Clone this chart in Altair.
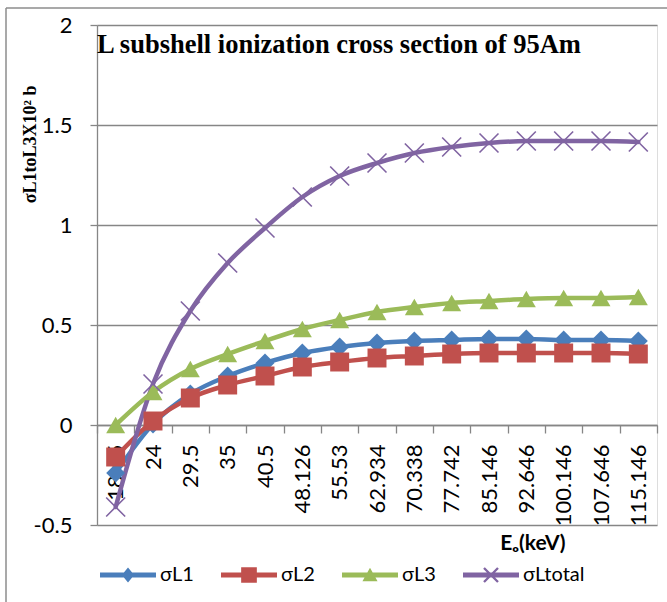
import altair as alt
import pandas as pd

energies = ["18.65", "24", "29.5", "35", "40.5", "48.126", "55.53", "62.934",
            "70.338", "77.742", "85.146", "92.646", "100.146", "107.646", "115.146"]
sigma_l1 = [-0.24, 0.005, 0.155, 0.245, 0.31, 0.36, 0.39, 0.41, 0.42, 0.425, 0.43, 0.43, 0.425, 0.425, 0.42]
sigma_l2 = [-0.16, 0.02, 0.135, 0.2, 0.245, 0.29, 0.315, 0.335, 0.345, 0.355, 0.36, 0.36, 0.36, 0.36, 0.355]
sigma_l3 = [0.0, 0.165, 0.28, 0.355, 0.42, 0.48, 0.525, 0.565, 0.59, 0.61, 0.62, 0.63, 0.635, 0.635, 0.64]
sigma_lt = [-0.41, 0.205, 0.57, 0.81, 0.985, 1.14, 1.245, 1.31, 1.36, 1.39, 1.41, 1.42, 1.42, 1.42, 1.415]
series_names = ["σL1", "σL2", "σL3", "σLtotal"]
y_ticks = [-0.5, 0, 0.5, 1, 1.5, 2]

colors = ["#4A7EBB", "#C0504D", "#9BBB59", "#8064A2"]

rows = []
for name, vals in zip(series_names, [sigma_l1, sigma_l2, sigma_l3, sigma_lt]):
    for e, v in zip(energies, vals):
        rows.append({"E": e, "value": v, "series": name})
df = pd.DataFrame(rows)

X_PATH = ("M-0.94,-1.06L1.06,0.94L0.94,1.06L-1.06,-0.94Z"
          "M-1.06,0.94L0.94,-1.06L1.06,-0.94L-0.94,1.06Z")
plot_shapes = ["diamond", "square", "triangle-up", X_PATH]

LINE = "M-1,-0.09H1V0.09H-1Z"
a = 0.03
r = 0.25
legend_x = (f"M{-r+a},{-r-a}L{r+a},{r-a}L{r-a},{r+a}L{-r-a},{-r+a}Z"
            f"M{-r-a},{r-a}L{r-a},{-r-a}L{r+a},{-r+a}L{-r+a},{r+a}Z")
legend_shapes = [
    LINE + "M0,-0.27L0.22,0L0,0.27L-0.22,0Z",
    LINE + "M-0.28,-0.28H0.28V0.28H-0.28Z",
    LINE + "M0,-0.26L0.27,0.22H-0.27Z",
    LINE + legend_x,
]

x_enc = alt.X(
    "E:N", sort=energies, bandPosition=0.5,
    scale=alt.Scale(type="band", paddingInner=0, paddingOuter=0),
    axis=alt.Axis(
        title="Eₒ(keV)", offset=-100, tickBand="extent", tickSize=8,
        labelAngle=-90, labelAlign="right", labelBaseline="middle",
        labelPadding=11, labelFont="Lato", labelFontSize=22, labelColor="black",
        labelOverlap=False, labelBound=False,
        domainColor="#868686", tickColor="#868686", domainWidth=1.3, tickWidth=1.3,
        titleFont="Lato", titleFontWeight="bold", titleFontSize=21, titleColor="black",
        titleX=468, titleY=118, titleAlign="right", titleBaseline="middle",
        grid=False,
    ),
)
y_enc = alt.Y(
    "value:Q",
    scale=alt.Scale(domain=[-0.5, 2], nice=False, zero=False),
    axis=alt.Axis(
        values=y_ticks, labelExpr="toString(datum.value)",
        title="σL1toL3X10² b", titleFont="Liberation Serif", titleFontWeight="bold",
        titleFontSize=18, titleColor="black", titleAngle=-90,
        titleX=-62, titleY=60, titleAlign="right", titleBaseline="alphabetic",
        tickSize=7, labelPadding=18, labelFont="Lato", labelFontSize=22,
        labelColor="black", domainColor="#868686", tickColor="#868686",
        domainWidth=1.3, tickWidth=1.3,
        grid=True, gridColor="#868686", gridWidth=1.3,
    ),
)

color_scale = alt.Scale(domain=series_names, range=colors)

lines = alt.Chart(df).mark_line(interpolate="monotone", strokeWidth=4.5, strokeCap="round").encode(
    x=x_enc, y=y_enc,
    color=alt.Color("series:N", scale=color_scale, legend=None),
)

points = alt.Chart(df).mark_point(filled=True, opacity=1, size=360).encode(
    x=x_enc, y=y_enc,
    color=alt.Color("series:N", scale=color_scale, legend=None),
    shape=alt.Shape("series:N", scale=alt.Scale(domain=series_names, range=plot_shapes), legend=None),
)

legend_props = dict(title=None, orient="none", legendX=3, legendY=522,
                    direction="horizontal", columns=4,
                    symbolSize=3136, symbolOpacity=1, symbolStrokeWidth=0,
                    labelFont="Lato", labelFontSize=20, labelColor="black",
                    labelOffset=4, columnPadding=27, padding=0)

legend_layer = alt.Chart(df).mark_point(filled=True, opacity=1).encode(
    x=x_enc, y=y_enc,
    color=alt.Color("series:N", scale=color_scale, legend=alt.Legend(**legend_props)),
    shape=alt.Shape("series:N", scale=alt.Scale(domain=series_names, range=legend_shapes),
                    legend=alt.Legend(**legend_props)),
).transform_filter("false")

frame_data = alt.Data(values=[{"k": 1}])
frame_left = alt.Chart(frame_data).mark_rule(color="#8c8c8c", strokeWidth=1.5).encode(
    x=alt.value(-91), y=alt.value(-17), y2=alt.value(577))
frame_top = alt.Chart(frame_data).mark_rule(color="#8c8c8c", strokeWidth=1.5).encode(
    x=alt.value(-91), x2=alt.value(570), y=alt.value(-17))

chart = alt.layer(lines, points, legend_layer, frame_left, frame_top).resolve_scale(
    color="independent", shape="independent"
).properties(
    width=560, height=500,
    title=alt.TitleParams("L subshell ionization cross section of 95Am", anchor="start",
                          frame="group",
                          font="Liberation Serif", fontWeight="bold", fontSize=26.5,
                          color="black", baseline="alphabetic", offset=0, dy=72),
    padding={"left": 97, "top": 25, "right": 10, "bottom": 77},
    autosize=alt.AutoSizeParams(type="none"),
).configure_view(stroke=None).configure(background="white")

chart.save("out.html", embed_options={"renderer": "svg", "actions": False})
